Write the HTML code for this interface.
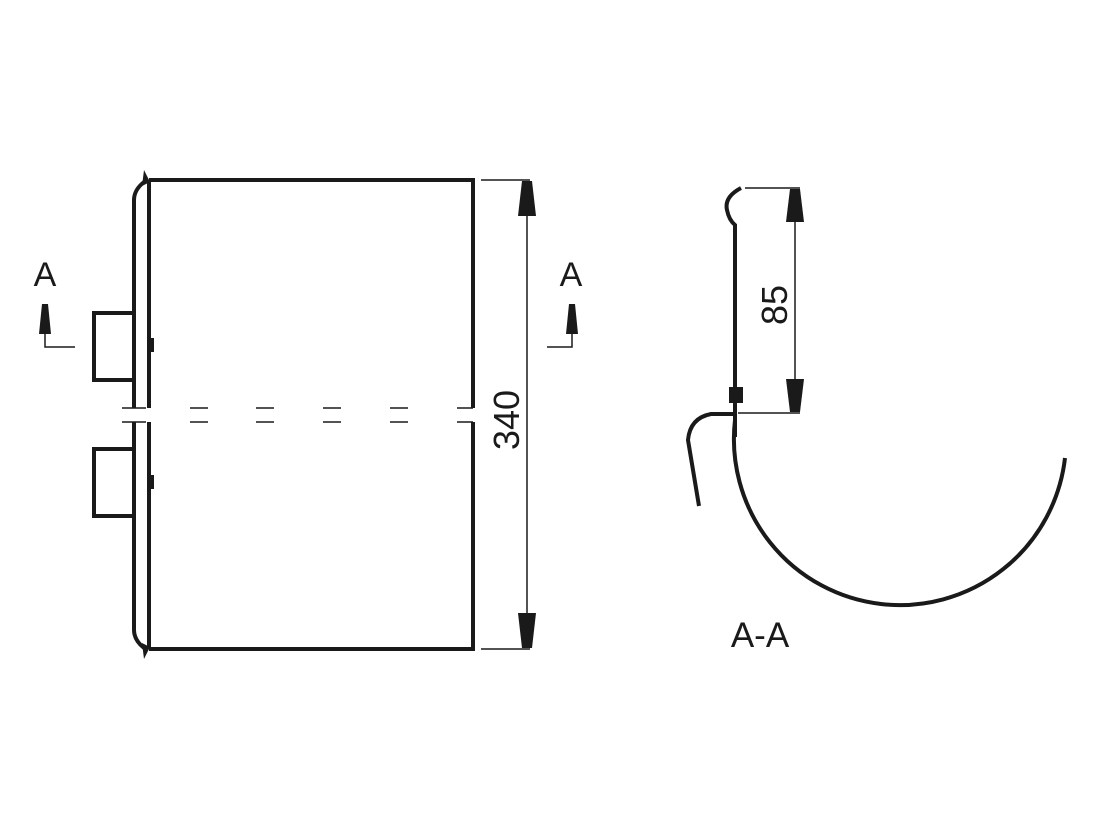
<!DOCTYPE html>
<html><head><style>body{margin:0;background:#fff}svg{display:block}text{font-family:"Liberation Sans",sans-serif;fill:#1a1a1a}</style></head>
<body>
<svg width="1100" height="825" viewBox="0 0 1100 825" xmlns="http://www.w3.org/2000/svg">
<g fill="none" stroke="#1a1a1a" stroke-width="4">
<path d="M149 180 H473 V408 M473 422 V649 H149"/>
<path d="M149 180 V408 M149 422 V649"/>
<path d="M134 408 V200 Q134 190 144 182 M134 422 V630 Q134 640 144 648"/>
<rect x="94" y="313" width="40" height="67"/>
<rect x="94" y="449" width="40" height="67"/>
</g>
<path d="M144 170 L150 182 L142 186Z M144 659 L150 647 L142 643Z" fill="#1a1a1a"/>
<rect x="149" y="338" width="5" height="14" fill="#1a1a1a"/>
<rect x="149" y="475" width="5" height="14" fill="#1a1a1a"/>
<g stroke="#1a1a1a" stroke-width="1.5" fill="none">
<path d="M122 408H146 M122 422H146 M190 408H208 M190 422H208 M256 408H274 M256 422H274 M323 408H341 M323 422H341 M390 408H408 M390 422H408 M457 408H473 M457 422H473"/>
<path d="M481 180H530 M481 649H530 M527 215V614"/>
<path d="M45 320V347H75 M572 320V347H547"/>
<path d="M745 188H800 M738 413H800 M795 220V380"/>
</g>
<g fill="#1a1a1a">
<path d="M522 181H532L536 216H518Z"/>
<path d="M522 648H532L536 613H518Z"/>
<path d="M42 304H48L51 334H39Z"/>
<path d="M569 304H575L578 334H566Z"/>
<path d="M790 189H800L804 222H786Z"/>
<path d="M790 412H800L804 379H786Z"/>
</g>
<text x="45" y="286" font-size="34" text-anchor="middle">A</text>
<text x="571" y="286" font-size="34" text-anchor="middle">A</text>
<text transform="translate(519,420) rotate(-90)" font-size="36" text-anchor="middle">340</text>
<text transform="translate(787,305) rotate(-90)" font-size="36" text-anchor="middle">85</text>
<text x="760" y="647" font-size="35" text-anchor="middle">A-A</text>
<g fill="none" stroke="#1a1a1a" stroke-width="4">
<path d="M741 188 Q724 197 727 210 Q729 220 735 225 V437"/>
<path d="M735 420 A165 165 0 0 0 1065 458"/>
<path d="M733 414 H711 Q690 418 688 440 L699 506"/>
</g>
<rect x="729" y="387" width="14" height="16" fill="#1a1a1a"/>
</svg>
</body></html>
